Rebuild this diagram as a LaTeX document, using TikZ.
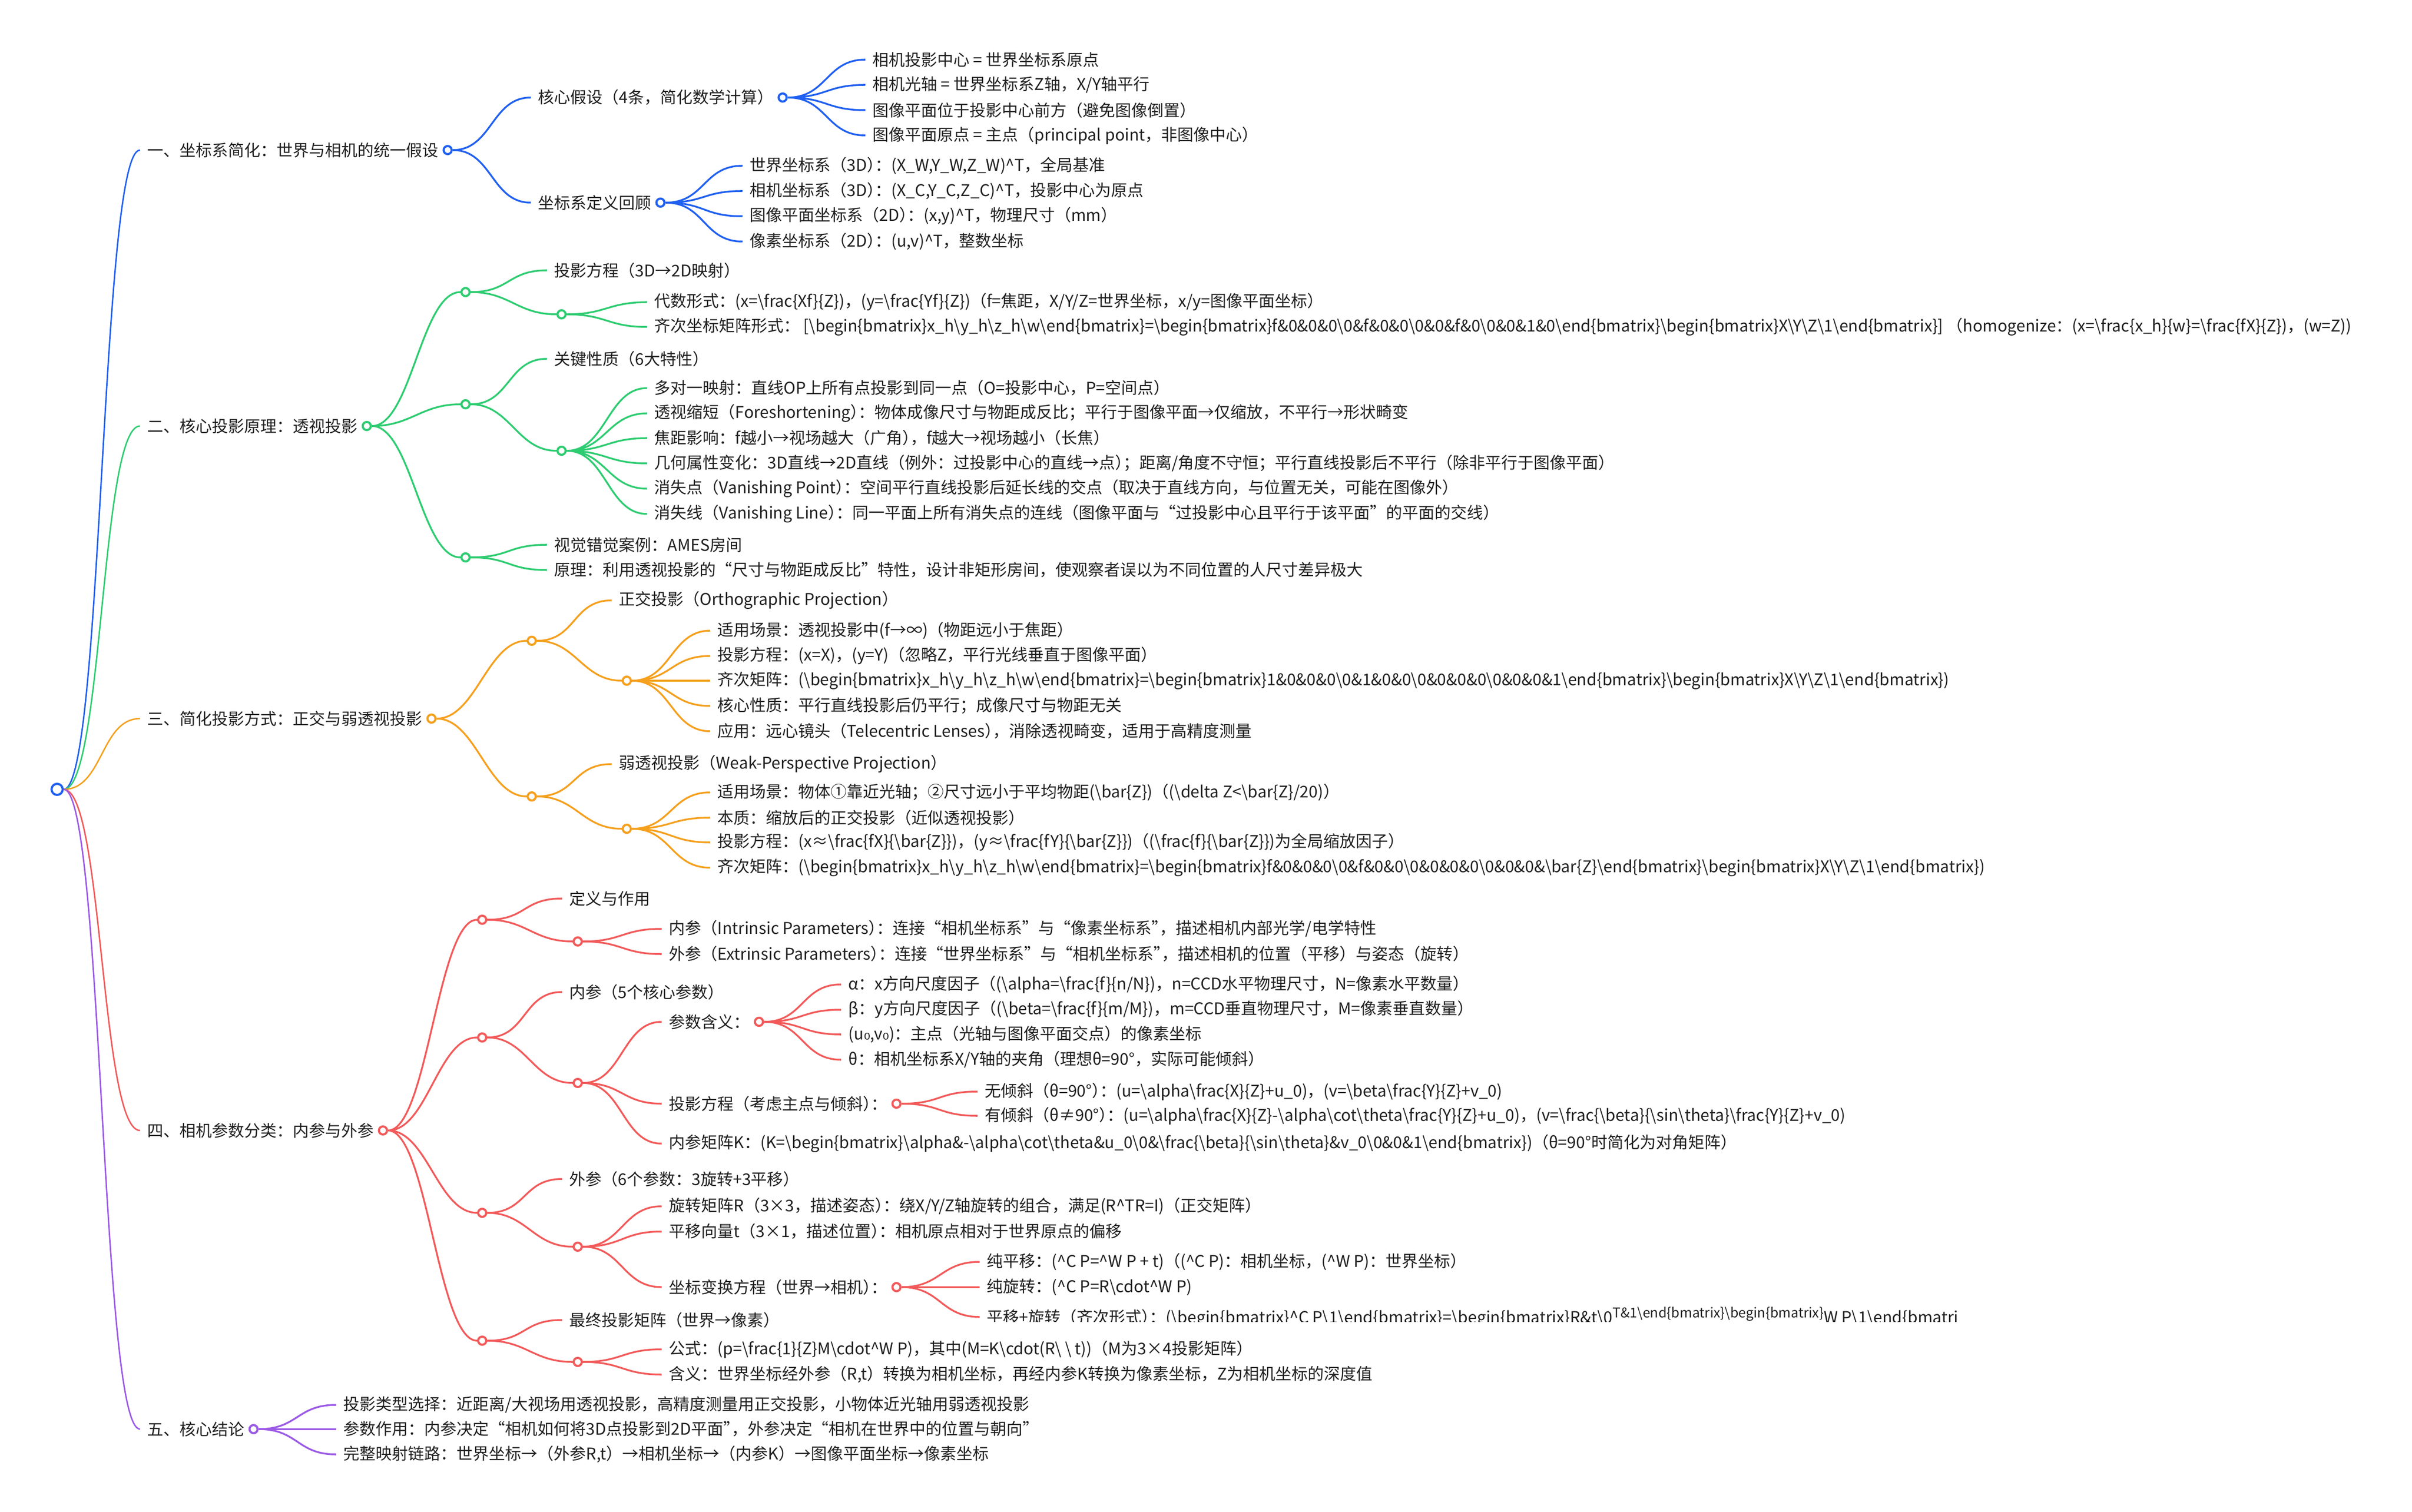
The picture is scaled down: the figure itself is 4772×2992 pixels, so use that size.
\documentclass[tikz,border=0pt]{standalone}
\usepackage{fontspec}
\setmainfont{Noto Sans CJK SC}
\newfontfamily\symfont{DejaVu Sans}
\usepackage{tikz}
\usetikzlibrary{positioning}
\definecolor{mmblue}{RGB}{32,96,240}
\definecolor{mmgreen}{RGB}{46,204,113}
\definecolor{mmorange}{RGB}{245,160,30}
\definecolor{mmred}{RGB}{242,90,90}
\definecolor{mmpurple}{RGB}{155,90,230}
\newcommand{\bs}{\textbackslash}
\newcommand{\caret}{\textasciicircum}
\newcommand{\BMbegin}{\bs begin\{bmatrix\}}
\newcommand{\BMend}{\bs end\{bmatrix\}}
\newcommand{\pk}{\kern-0.5em}

\begin{document}
\begin{tikzpicture}[
    x=0.01cm, y=-0.01cm,
    txt/.style={anchor=west, inner xsep=4pt, inner ysep=1pt, text=black!88, font=\fontsize{9.1}{11}\selectfont},
    dot/.style={circle, draw=#1, fill=white, line width=1.2pt, minimum size=0.16cm, inner sep=0pt},
    lk/.style={draw=#1, line width=1pt, to path={.. controls +(78,0) and +(-78,0) .. (\tikztotarget)}}
]
    \useasboundingbox (0,0) rectangle (4772,2992);

    % Root
    \node[dot=mmblue, minimum size=0.22cm] (root) at (113,1562) {};

    % Section 1
    \node[txt] (s1) at (277,297) {一、坐标系简化：世界与相机的统一假设};
    \node[dot=mmblue, right=-2pt of s1] (s1c) {};
    \node[txt] (s1a) at (1050,193) {核心假设（4条，简化数学计算）};
    \node[dot=mmblue, right=-2pt of s1a] (s1ac) {};
    \node[txt] (s1a1) at (1712,118) {相机投影中心 = 世界坐标系原点};
    \node[txt] (s1a2) at (1712,168) {相机光轴 = 世界坐标系Z轴，X/Y轴平行};
    \node[txt] (s1a3) at (1712,218) {图像平面位于投影中心前方（避免图像倒置）};
    \node[txt] (s1a4) at (1712,268) {图像平面原点 = 主点（principal point，非图像中心）};
    \node[txt] (s1b) at (1050,401) {坐标系定义回顾};
    \node[dot=mmblue, right=-2pt of s1b] (s1bc) {};
    \node[txt] (s1b1) at (1469,328) {世界坐标系（3D）\pk：(X\_W,Y\_W,Z\_W)\caret T，全局基准};
    \node[txt] (s1b2) at (1469,378) {相机坐标系（3D）\pk：(X\_C,Y\_C,Z\_C)\caret T，投影中心为原点};
    \node[txt] (s1b3) at (1469,428) {图像平面坐标系（2D）\pk：(x,y)\caret T，物理尺寸（mm）};
    \node[txt] (s1b4) at (1469,478) {像素坐标系（2D）\pk：(u,v)\caret T，整数坐标};

    % Section 2
    \node[txt] (s2) at (277,843) {二、核心投影原理：透视投影};
    \node[dot=mmgreen, right=-2pt of s2] (s2c) {};
    \node[dot=mmgreen] (s2p) at (921,578) {};
    \node[txt] (s2p1) at (1082,535) {投影方程（3D→2D映射）};
    \node[dot=mmgreen] (s2q) at (1111,622) {};
    \node[txt] (s2q1) at (1280,598) {代数形式：(x=\bs frac\{Xf\}\{Z\})，(y=\bs frac\{Yf\}\{Z\})（f=焦距，X/Y/Z=世界坐标，x/y=图像平面坐标）};
    \node[txt] (s2q2) at (1280,647) {齐次坐标矩阵形式： [\BMbegin x\_h\bs y\_h\bs z\_h\bs w\BMend=\BMbegin f\&0\&0\&0\bs 0\&f\&0\&0\bs 0\&0\&f\&0\bs 0\&0\&1\&0\BMend\BMbegin X\bs Y\bs Z\bs 1\BMend] （homogenize：(x=\bs frac\{x\_h\}\{w\}=\bs frac\{fX\}\{Z\})，(w=Z))};
    \node[dot=mmgreen] (s2r) at (921,800) {};
    \node[txt] (s2r1) at (1082,710) {关键性质（6大特性）};
    \node[dot=mmgreen] (s2s) at (1111,892) {};
    \node[txt] (s2s1) at (1280,768) {多对一映射：直线OP上所有点投影到同一点（O=投影中心，P=空间点）};
    \node[txt] (s2s2) at (1280,818) {透视缩短（Foreshortening）\pk：物体成像尺寸与物距成反比；平行于图像平面→仅缩放，不平行→形状畸变};
    \node[txt] (s2s3) at (1280,867) {焦距影响：f越小→视场越大（广角）\pk，f越大→视场越小（长焦）};
    \node[txt] (s2s4) at (1280,917) {几何属性变化：3D直线→2D直线（例外：过投影中心的直线→点）\pk；距离/角度不守恒；平行直线投影后不平行（除非平行于图像平面）};
    \node[txt] (s2s5) at (1280,967) {消失点（Vanishing Point）\pk：空间平行直线投影后延长线的交点（取决于直线方向，与位置无关，可能在图像外）};
    \node[txt] (s2s6) at (1280,1017) {消失线（Vanishing Line）\pk：同一平面上所有消失点的连线（图像平面与“过投影中心且平行于该平面”的平面的交线）};
    \node[dot=mmgreen] (s2t) at (921,1103) {};
    \node[txt] (s2t1) at (1082,1078) {视觉错觉案例：AMES房间};
    \node[txt] (s2t2) at (1082,1128) {原理：利用透视投影的“尺寸与物距成反比”特性，设计非矩形房间，使观察者误以为不同位置的人尺寸差异极大};

    % Section 3
    \node[txt] (s3) at (277,1422) {三、简化投影方式：正交与弱透视投影};
    \node[dot=mmorange, right=-2pt of s3] (s3c) {};
    \node[dot=mmorange] (s3p) at (1052,1268) {};
    \node[txt] (s3p1) at (1210,1188) {正交投影（Orthographic Projection）};
    \node[dot=mmorange] (s3q) at (1240,1347) {};
    \node[txt] (s3q1) at (1405,1248) {适用场景：透视投影中(f→∞)（物距远小于焦距）};
    \node[txt] (s3q2) at (1405,1298) {投影方程：(x=X)，(y=Y)（忽略Z，平行光线垂直于图像平面）};
    \node[txt] (s3q3) at (1405,1347) {齐次矩阵：(\BMbegin x\_h\bs y\_h\bs z\_h\bs w\BMend=\BMbegin 1\&0\&0\&0\bs 0\&1\&0\&0\bs 0\&0\&0\&0\bs 0\&0\&0\&1\BMend\BMbegin X\bs Y\bs Z\bs 1\BMend)};
    \node[txt] (s3q4) at (1405,1397) {核心性质：平行直线投影后仍平行；成像尺寸与物距无关};
    \node[txt] (s3q5) at (1405,1447) {应用：远心镜头（Telecentric Lenses）\pk，消除透视畸变，适用于高精度测量};
    \node[dot=mmorange] (s3r) at (1052,1576) {};
    \node[txt] (s3r1) at (1210,1512) {弱透视投影（Weak-Perspective Projection）};
    \node[dot=mmorange] (s3s) at (1240,1640) {};
    \node[txt] (s3s1) at (1405,1568) {适用场景：物体①靠近光轴；②尺寸远小于平均物距(\bs bar\{Z\})（(\bs delta Z<\bs bar\{Z\}/20)）};
    \node[txt] (s3s2) at (1405,1618) {本质：缩放后的正交投影（近似透视投影）};
    \node[txt] (s3s3) at (1405,1667) {投影方程：(x≈\bs frac\{fX\}\{\bs bar\{Z\}\})，(y≈\bs frac\{fY\}\{\bs bar\{Z\}\})（(\bs frac\{f\}\{\bs bar\{Z\}\})为全局缩放因子）};
    \node[txt] (s3s4) at (1405,1717) {齐次矩阵：(\BMbegin x\_h\bs y\_h\bs z\_h\bs w\BMend=\BMbegin f\&0\&0\&0\bs 0\&f\&0\&0\bs 0\&0\&0\&0\bs 0\&0\&0\&\bs bar\{Z\}\BMend\BMbegin X\bs Y\bs Z\bs 1\BMend)};

    % Section 4
    \node[txt] (s4) at (277,2237) {四、相机参数分类：内参与外参};
    \node[dot=mmred, right=-2pt of s4] (s4c) {};
    \node[dot=mmred] (s4p) at (954,1820) {};
    \node[txt] (s4p1) at (1112,1778) {定义与作用};
    \node[dot=mmred] (s4q) at (1143,1863) {};
    \node[txt] (s4q1) at (1309,1838) {内参（Intrinsic Parameters）\pk：连接“相机坐标系”与“像素坐标系”\pk，描述相机内部光学/电学特性};
    \node[txt] (s4q2) at (1309,1888) {外参（Extrinsic Parameters）\pk：连接“世界坐标系”与“相机坐标系”\pk，描述相机的位置（平移）与姿态（旋转）};
    \node[dot=mmred] (s4r) at (954,2053) {};
    \node[txt] (s4r1) at (1112,1963) {内参（5个核心参数）};
    \node[dot=mmred] (s4s) at (1143,2143) {};
    \node[txt] (s4s1) at (1309,2022) {参数含义：};
    \node[dot=mmred, right=-2pt of s4s1] (s4s1c) {};
    \node[txt] (s4a1) at (1664,1948) {α：x方向尺度因子（(\bs alpha=\bs frac\{f\}\{n/N\})，n=CCD水平物理尺寸，N=像素水平数量）};
    \node[txt] (s4a2) at (1664,1998) {β：y方向尺度因子（(\bs beta=\bs frac\{f\}\{m/M\})，m=CCD垂直物理尺寸，M=像素垂直数量）};
    \node[txt] (s4a3) at (1664,2047) {(u{\symfont ₀},v{\symfont ₀})：主点（光轴与图像平面交点）的像素坐标};
    \node[txt] (s4a4) at (1664,2097) {θ：相机坐标系X/Y轴的夹角（理想θ=90°，实际可能倾斜）};
    \node[txt] (s4s2) at (1309,2184) {投影方程（考虑主点与倾斜）\pk：};
    \node[dot=mmred, right=-2pt of s4s2] (s4s2c) {};
    \node[txt] (s4b1) at (1934,2160) {无倾斜（θ=90°）\pk：(u=\bs alpha\bs frac\{X\}\{Z\}+u\_0)，(v=\bs beta\bs frac\{Y\}\{Z\}+v\_0)};
    \node[txt] (s4b2) at (1934,2208) {有倾斜（θ≠90°）\pk：(u=\bs alpha\bs frac\{X\}\{Z\}-\bs alpha\bs cot\bs theta\bs frac\{Y\}\{Z\}+u\_0)，(v=\bs frac\{\bs beta\}\{\bs sin\bs theta\}\bs frac\{Y\}\{Z\}+v\_0)};
    \node[txt] (s4s3) at (1309,2263) {内参矩阵K：(K=\BMbegin\bs alpha\&-\bs alpha\bs cot\bs theta\&u\_0\bs 0\&\bs frac\{\bs beta\}\{\bs sin\bs theta\}\&v\_0\bs 0\&0\&1\BMend)（θ=90°时简化为对角矩阵）};
    \node[dot=mmred] (s4t) at (954,2400) {};
    \node[txt] (s4t1) at (1112,2333) {外参（6个参数：3旋转+3平移）};
    \node[dot=mmred] (s4u) at (1143,2467) {};
    \node[txt] (s4u1) at (1309,2387) {旋转矩阵R（3×3，描述姿态）\pk：绕X/Y/Z轴旋转的组合，满足(R\caret TR=I)（正交矩阵）};
    \node[txt] (s4u2) at (1309,2437) {平移向量t（3×1，描述位置）\pk：相机原点相对于世界原点的偏移};
    \node[txt] (s4u3) at (1309,2547) {坐标变换方程（世界→相机）\pk：};
    \node[dot=mmred, right=-2pt of s4u3] (s4u3c) {};
    \node[txt] (s4c1) at (1938,2497) {纯平移：(\caret C P=\caret W P + t)（(\caret C P)：相机坐标，(\caret W P)：世界坐标）};
    \node[txt] (s4c2) at (1938,2547) {纯旋转：(\caret C P=R\bs cdot\caret W P)};
    \begin{scope}
        \clip (1900,2440) rectangle (3870,2615);
        \node[txt] (s4c3) at (1938,2606) {平移+旋转（齐次形式）\pk：(\BMbegin\caret C P\bs 1\BMend=\BMbegin R\&t\bs 0\raisebox{3.2pt}{\fontsize{7.6}{8}\selectfont T\&1\BMend\BMbegin}W P\bs 1\BMend)};
    \end{scope}
    \node[dot=mmred] (s4v) at (954,2653) {};
    \node[txt] (s4v1) at (1112,2612) {最终投影矩阵（世界→像素）};
    \node[dot=mmred] (s4w) at (1143,2695) {};
    \node[txt] (s4w1) at (1309,2670) {公式：(p=\bs frac\{1\}\{Z\}M\bs cdot\caret W P)，其中(M=K\bs cdot(R\bs{} \bs{} t))（M为3×4投影矩阵）};
    \node[txt] (s4w2) at (1309,2720) {含义：世界坐标经外参（R,t）转换为相机坐标，再经内参K转换为像素坐标，Z为相机坐标的深度值};

    % Section 5
    \node[txt] (s5) at (277,2828) {五、核心结论};
    \node[dot=mmpurple, right=-2pt of s5] (s5c) {};
    \node[txt] (s5a1) at (665,2780) {投影类型选择：近距离/大视场用透视投影，高精度测量用正交投影，小物体近光轴用弱透视投影};
    \node[txt] (s5a2) at (665,2828) {参数作用：内参决定“相机如何将3D点投影到2D平面”\pk，外参决定“相机在世界中的位置与朝向”};
    \node[txt] (s5a3) at (665,2878) {完整映射链路：世界坐标→（外参R,t）→相机坐标→（内参K）→图像平面坐标→像素坐标};

    % Links from root
    \draw[lk=mmblue, line width=0.8pt] (root.east) to (s1.west);
    \draw[lk=mmgreen, line width=0.8pt] (root.east) to (s2.west);
    \draw[lk=mmorange, line width=0.8pt] (root.east) to (s3.west);
    \draw[lk=mmred, line width=0.8pt] (root.east) to (s4.west);
    \draw[lk=mmpurple, line width=0.8pt] (root.east) to (s5.west);

    % Links, section 1
    \draw[lk=mmblue] (s1c.east) to (s1a.west) (s1c.east) to (s1b.west);
    \draw[lk=mmblue] (s1ac.east) to (s1a1.west) (s1ac.east) to (s1a2.west) (s1ac.east) to (s1a3.west) (s1ac.east) to (s1a4.west);
    \draw[lk=mmblue] (s1bc.east) to (s1b1.west) (s1bc.east) to (s1b2.west) (s1bc.east) to (s1b3.west) (s1bc.east) to (s1b4.west);

    % Links, section 2
    \draw[lk=mmgreen] (s2c.east) to (s2p.west) (s2c.east) to (s2r.west) (s2c.east) to (s2t.west);
    \draw[lk=mmgreen] (s2p.east) to (s2p1.west) (s2p.east) to (s2q.west);
    \draw[lk=mmgreen] (s2q.east) to (s2q1.west) (s2q.east) to (s2q2.west);
    \draw[lk=mmgreen] (s2r.east) to (s2r1.west) (s2r.east) to (s2s.west);
    \draw[lk=mmgreen] (s2s.east) to (s2s1.west) (s2s.east) to (s2s2.west) (s2s.east) to (s2s3.west) (s2s.east) to (s2s4.west) (s2s.east) to (s2s5.west) (s2s.east) to (s2s6.west);
    \draw[lk=mmgreen] (s2t.east) to (s2t1.west) (s2t.east) to (s2t2.west);

    % Links, section 3
    \draw[lk=mmorange] (s3c.east) to (s3p.west) (s3c.east) to (s3r.west);
    \draw[lk=mmorange] (s3p.east) to (s3p1.west) (s3p.east) to (s3q.west);
    \draw[lk=mmorange] (s3q.east) to (s3q1.west) (s3q.east) to (s3q2.west) (s3q.east) to (s3q3.west) (s3q.east) to (s3q4.west) (s3q.east) to (s3q5.west);
    \draw[lk=mmorange] (s3r.east) to (s3r1.west) (s3r.east) to (s3s.west);
    \draw[lk=mmorange] (s3s.east) to (s3s1.west) (s3s.east) to (s3s2.west) (s3s.east) to (s3s3.west) (s3s.east) to (s3s4.west);

    % Links, section 4
    \draw[lk=mmred] (s4c.east) to (s4p.west) (s4c.east) to (s4r.west) (s4c.east) to (s4t.west) (s4c.east) to (s4v.west);
    \draw[lk=mmred] (s4p.east) to (s4p1.west) (s4p.east) to (s4q.west);
    \draw[lk=mmred] (s4q.east) to (s4q1.west) (s4q.east) to (s4q2.west);
    \draw[lk=mmred] (s4r.east) to (s4r1.west) (s4r.east) to (s4s.west);
    \draw[lk=mmred] (s4s.east) to (s4s1.west) (s4s.east) to (s4s2.west) (s4s.east) to (s4s3.west);
    \draw[lk=mmred] (s4s1c.east) to (s4a1.west) (s4s1c.east) to (s4a2.west) (s4s1c.east) to (s4a3.west) (s4s1c.east) to (s4a4.west);
    \draw[lk=mmred] (s4s2c.east) to (s4b1.west) (s4s2c.east) to (s4b2.west);
    \draw[lk=mmred] (s4t.east) to (s4t1.west) (s4t.east) to (s4u.west);
    \draw[lk=mmred] (s4u.east) to (s4u1.west) (s4u.east) to (s4u2.west) (s4u.east) to (s4u3.west);
    \draw[lk=mmred] (s4u3c.east) to (s4c1.west) (s4u3c.east) to (s4c2.west) (s4u3c.east) to (s4c3.west);
    \draw[lk=mmred] (s4v.east) to (s4v1.west) (s4v.east) to (s4w.west);
    \draw[lk=mmred] (s4w.east) to (s4w1.west) (s4w.east) to (s4w2.west);

    % Links, section 5
    \draw[lk=mmpurple] (s5c.east) to (s5a1.west) (s5c.east) to (s5a2.west) (s5c.east) to (s5a3.west);
\end{tikzpicture}
\end{document}
